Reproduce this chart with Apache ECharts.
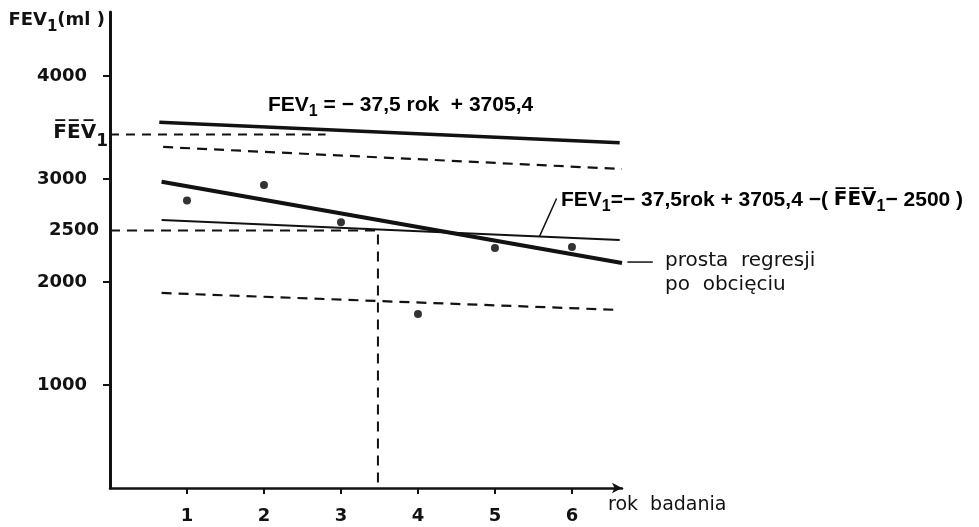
<!DOCTYPE html>
<html>
<head>
<meta charset="utf-8">
<script src="https://cdn.jsdelivr.net/npm/echarts@6/dist/echarts.min.js"></script>
<style>
  html, body { margin: 0; padding: 0; background: #fff; }
  #chart { width: 979px; height: 527px; }
</style>
</head>
<body>
<div id="chart"></div>
<script>
// Year of examination and measured FEV1 (ml)
const years = [1, 2, 3, 4, 5, 6];
const fev1Measured = [2790, 2940, 2580, 1690, 2330, 2340];

// Axis labels
const xTickValues = [1, 2, 3, 4, 5, 6];
const yTickValues = [1000, 2000, 3000, 4000];
const fev1Mean = 3430;
const cutLevel = 2500;
const meanYear = 3.48;

// Straight lines as [year, FEV1] end points
const populationLine = [[0.64, 3550], [6.62, 3350]];
const upperBand = [[0.69, 3310], [6.65, 3096]];
const lowerBand = [[0.67, 1893], [6.62, 1728]];
const shiftedLine = [[0.67, 2601], [6.62, 2407]];
const trimmedRegression = [[0.67, 2973], [6.65, 2184]];
const meanGuide = [[0, fev1Mean], [2.8, fev1Mean]];
const cutGuide = [[0, cutLevel], [meanYear, cutLevel], [meanYear, 0]];
const shiftedLeader = [[5.58, 2445], [5.8, 2810]];
const regressionLeader = [[6.72, 2193], [7.05, 2193]];

const ink = '#121212';
const numFont = 'DejaVu Sans';
const textFont = 'Liberation Sans';

function segment(data, width, type) {
  return {
    type: 'line',
    data: data,
    symbol: 'none',
    clip: false,
    silent: true,
    lineStyle: { color: ink, width: width, type: type || 'solid', cap: 'butt' },
    z: 3
  };
}

const subStyle = { fontFamily: textFont, fontWeight: 'bold', fontSize: 16, color: ink, verticalAlign: 'top', padding: [9, 0, 0, 0], lineHeight: 16 };
const eqStyle = { fontFamily: textFont, fontWeight: 'bold', fontSize: 21, color: ink, verticalAlign: 'top', lineHeight: 23 };
const barStyle = { fontFamily: 'DejaVu Sans', fontWeight: 'bold', fontSize: 20, color: ink, verticalAlign: 'top', lineHeight: 23 };

const chart = echarts.init(document.getElementById('chart'), null, { renderer: 'canvas' });

chart.setOption({
  backgroundColor: '#ffffff',
  animation: false,
  grid: { left: 110, right: 357, top: 12, bottom: 39, containLabel: false },
  xAxis: {
    type: 'value',
    min: 0,
    max: 6.65,
    name: 'rok  badania',
    nameLocation: 'end',
    nameGap: -14,
    nameTextStyle: {
      fontFamily: 'DejaVu Sans', fontSize: 19, color: ink,
      align: 'left', verticalAlign: 'top', padding: [8, 0, 0, 0]
    },
    axisLine: {
      show: true,
      symbol: ['none', 'arrow'],
      symbolSize: [8, 10],
      lineStyle: { color: ink, width: 2.5 }
    },
    axisTick: { show: true, customValues: xTickValues, length: 6, lineStyle: { color: ink, width: 2 } },
    axisLabel: {
      customValues: xTickValues,
      margin: 19,
      fontFamily: numFont, fontWeight: 'bold', fontSize: 18, color: ink
    },
    splitLine: { show: false }
  },
  yAxis: {
    type: 'value',
    min: 0,
    max: 4620,
    name: '{b|FEV}{s|1}{b|(ml )}',
    nameLocation: 'end',
    nameGap: -10,
    nameTextStyle: {
      align: 'right',
      verticalAlign: 'middle',
      padding: [0, 5, 0, 0],
      rich: {
        b: { fontFamily: numFont, fontWeight: 'bold', fontSize: 18, color: ink, verticalAlign: 'top', lineHeight: 21 },
        s: { fontFamily: numFont, fontWeight: 'bold', fontSize: 15, color: ink, verticalAlign: 'top', padding: [8, 0, 0, 0], lineHeight: 15 }
      }
    },
    axisLine: { show: true, lineStyle: { color: ink, width: 3 } },
    axisTick: { show: true, customValues: yTickValues, length: 7, lineStyle: { color: ink, width: 2 } },
    axisLabel: {
      customValues: yTickValues.concat([cutLevel, fev1Mean]),
      margin: 2,
      formatter: function (v) {
        if (v === cutLevel) return '{m|' + v + '}';
        if (v === fev1Mean) return '{o|F\u0305E\u0305V\u0305}{s|1}';
        return '{n|' + v + '}';
      },
      rich: {
        n: { fontFamily: numFont, fontWeight: 'bold', fontSize: 18, color: ink, padding: [0, 21, 0, 0] },
        m: { fontFamily: numFont, fontWeight: 'bold', fontSize: 18, color: ink, padding: [0, 9, 0, 0] },
        o: { fontFamily: numFont, fontWeight: 'bold', fontSize: 20, color: ink, verticalAlign: 'top', lineHeight: 24 },
        s: { fontFamily: numFont, fontWeight: 'bold', fontSize: 17, color: ink, verticalAlign: 'top', padding: [10, 0, 0, 0], lineHeight: 17 }
      }
    },
    splitLine: { show: false }
  },
  series: [
    segment(populationLine, 3.5),
    segment(meanGuide, 2, [9, 7]),
    segment(upperBand, 2.2, [10, 7]),
    segment(lowerBand, 2.2, [10, 7]),
    segment(shiftedLine, 1.8),
    segment(trimmedRegression, 4),
    segment(cutGuide, 2, [10, 7]),
    segment(shiftedLeader, 1.5),
    {
      type: 'scatter',
      data: years.map(function (y, i) { return [y, fev1Measured[i]]; }),
      symbol: 'circle',
      symbolSize: 8,
      itemStyle: { color: '#000' },
      silent: true,
      z: 4
    }
  ],
  graphic: [
    {
      type: 'text',
      left: 268,
      top: 95,
      style: {
        text: '{e|FEV}{s|1}{e| = \u2212 37,5 rok  + 3705,4}',
        rich: { e: eqStyle, s: subStyle }
      }
    },
    {
      type: 'text',
      left: 561,
      top: 190,
      style: {
        text: '{e|FEV}{s|1}{e|=\u2212 37,5rok + 3705,4 \u2212( }{o|F\u0305E\u0305V\u0305}{s|1}{e|\u2212 2500 )}',
        rich: { e: eqStyle, s: subStyle, o: barStyle }
      }
    },
    {
      type: 'text',
      left: 665,
      top: 249,
      style: {
        text: 'prosta  regresji\npo  obcięciu',
        fontFamily: 'DejaVu Sans',
        fontSize: 20,
        lineHeight: 24,
        fill: ink
      }
    }
  ]
});

// Leader from the end of the trimmed regression line to its caption,
// placed through the grid's own coordinate conversion
const leadA = chart.convertToPixel({ gridIndex: 0 }, regressionLeader[0]);
const leadB = chart.convertToPixel({ gridIndex: 0 }, regressionLeader[1]);
chart.setOption({
  graphic: [{
    type: 'line',
    id: 'regressionLeader',
    shape: { x1: leadA[0], y1: leadA[1], x2: leadB[0], y2: leadB[1] },
    style: { stroke: ink, lineWidth: 1.5 },
    silent: true
  }]
});
</script>
</body>
</html>
